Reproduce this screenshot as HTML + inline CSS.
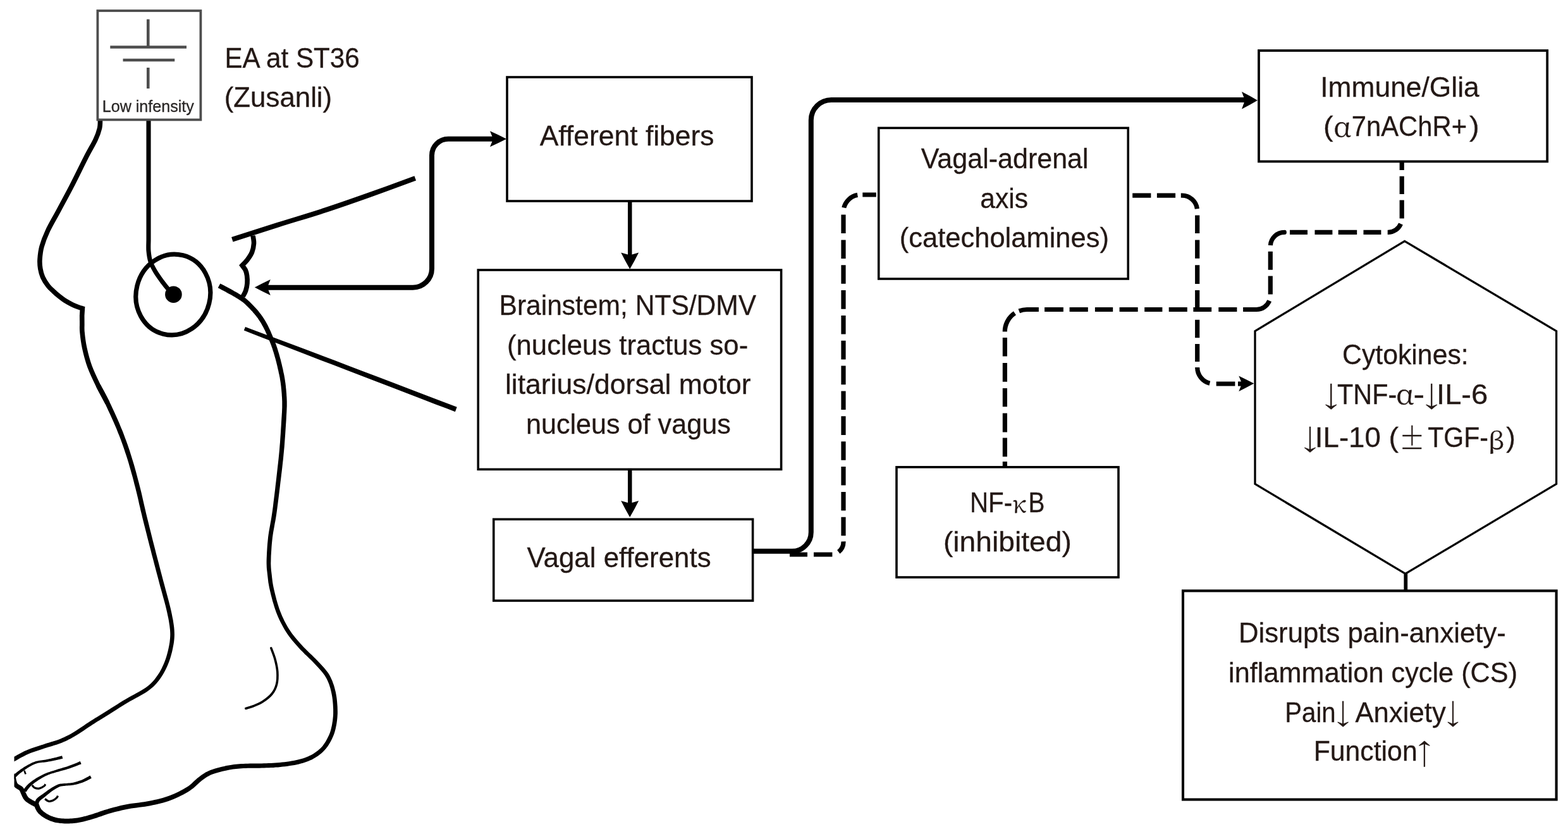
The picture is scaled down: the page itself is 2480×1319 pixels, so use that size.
<!DOCTYPE html>
<html lang="en">
<head>
<meta charset="utf-8">
<title>EA at ST36 (Zusanli) vagal anti-inflammatory pathway</title>
<style>
html,body{margin:0;padding:0;background:#fff;}
body{width:2480px;height:1319px;overflow:hidden;}
svg{display:block;will-change:transform;}
text{font-family:"Liberation Sans","DejaVu Sans",sans-serif;stroke:#231815;stroke-width:0.3px;}
.gk{font-family:"Noto Serif CJK SC","Liberation Serif","DejaVu Serif",serif;stroke:#231815;stroke-width:0.4px;}
.ar{font-family:"NanumGothic","WenQuanYi Zen Hei","Liberation Sans","DejaVu Sans",sans-serif;stroke:#231815;stroke-width:0.8px;}
</style>
</head>
<body>
<svg xmlns="http://www.w3.org/2000/svg" width="2480" height="1319" viewBox="0 0 2480 1319">
<defs><clipPath id="legclip"><rect x="22.5" y="0" width="2460" height="1319"/></clipPath></defs>
<rect width="2480" height="1319" fill="#fff"/>
<g clip-path="url(#legclip)">
<path d="M158.5 188.0C158.3 190.5 158.8 197.5 157.5 203.0C156.2 208.5 154.6 213.3 151.0 221.0C147.4 228.7 142.3 236.7 136.0 249.0C129.7 261.3 120.2 281.1 113.0 295.0C105.8 308.9 99.2 320.8 93.0 332.5C86.8 344.2 80.0 355.4 75.5 365.0C71.0 374.6 68.1 382.5 66.0 390.0C63.9 397.5 63.4 404.2 63.0 410.0C62.6 415.8 63.0 420.3 63.8 425.0C64.6 429.7 65.6 433.9 67.6 438.4C69.6 442.9 73.1 448.2 76.0 452.0C78.9 455.8 82.0 458.2 84.9 461.0C87.8 463.8 90.7 466.3 93.6 468.6C96.5 470.9 98.8 472.8 102.3 475.0C105.8 477.2 110.9 480.0 114.5 481.8C118.1 483.6 121.3 484.8 124.0 485.8C126.7 486.8 129.3 487.5 130.4 487.8L129.7 499C129.7 501.2 129.8 507.7 129.8 512.0C129.9 516.3 129.4 518.7 130.0 525.0C130.6 531.3 131.6 540.8 133.6 550.0C135.6 559.2 138.3 570.0 142.0 580.0C145.7 590.0 150.8 600.4 155.5 610.0C160.2 619.6 167.6 632.9 170.0 637.5" fill="none" stroke="#000" stroke-width="7.6" stroke-linecap="butt" stroke-linejoin="miter" stroke-miterlimit="6"/>
<path d="M152.2 611.8L153.2 613.8L154.7 616.4L156.3 619.4L158.2 622.7L160.2 626.5L162.3 630.5L164.4 634.7L166.6 639.1L168.9 643.9L171.3 649.2L173.9 654.8L176.5 660.6L179.2 666.5L181.8 672.5L184.3 678.3L186.5 683.9L188.7 689.3L190.7 694.5L192.6 699.8L194.5 705.0L196.3 710.2L198.0 715.4L199.8 720.7L201.5 726.1L203.2 731.6L204.8 737.2L206.4 742.8L208.0 748.5L209.6 754.1L211.1 759.8L212.5 765.4L214.0 770.9L215.3 776.3L216.6 781.5L217.8 786.6L219.0 791.7L220.1 796.9L221.4 802.2L222.6 807.7L224.0 813.3L225.4 819.2L226.9 825.2L228.4 831.2L230.0 837.4L231.6 843.7L233.2 850.2L234.9 856.7L236.6 863.4L238.4 870.3L240.2 877.5L242.2 884.8L244.1 892.3L246.1 899.7L248.0 907.0L249.9 914.1L251.7 920.9L253.4 927.4L255.2 933.8L256.9 940.1L258.6 946.2L260.2 952.1L261.7 957.8L263.0 963.1L264.2 968.2L265.2 973.0L266.2 977.5L267.0 981.7L267.6 985.7L268.2 989.5L268.6 993.1L269.0 996.6L269.2 1000.1L269.3 1003.5L269.2 1006.6L269.0 1009.7L268.7 1012.6L268.4 1015.5L267.9 1018.4L267.4 1021.3L266.8 1024.3L266.1 1027.4L265.4 1030.5L264.6 1033.6L263.7 1036.7L262.8 1039.8L261.8 1042.8L260.7 1045.8L259.5 1048.7L258.3 1051.6L256.9 1054.5L255.5 1057.4L254.0 1060.2L252.5 1062.9L250.9 1065.6L249.2 1068.1L247.4 1070.6L245.6 1072.9L243.9 1075.2L242.1 1077.2L240.2 1079.2L238.2 1081.2L236.0 1083.2L233.5 1085.3L230.6 1087.4L227.4 1089.6L223.8 1091.8L219.9 1094.0L215.7 1096.3L211.4 1098.7L207.0 1101.0L202.6 1103.5L198.4 1106.0L194.0 1108.6L189.6 1111.3L185.1 1114.2L180.6 1117.0L176.1 1119.8L171.9 1122.5L167.9 1125.0L164.3 1127.3L161.1 1129.2L158.3 1130.9L155.8 1132.4L153.5 1133.9L151.2 1135.3L148.8 1136.8L146.2 1138.4L143.2 1140.3L139.9 1142.4L136.3 1144.8L132.6 1147.4L128.7 1150.0L124.9 1152.5L121.1 1155.0L117.6 1157.2L114.3 1159.2L111.4 1160.9L108.5 1162.4L105.9 1163.8L103.3 1165.1L100.8 1166.2L98.3 1167.3L95.8 1168.4L93.2 1169.5L90.6 1170.4L88.1 1171.3L85.6 1172.1L83.1 1172.8L80.4 1173.6L77.6 1174.4L74.7 1175.3L71.6 1176.3L68.3 1177.4L64.8 1178.5L61.1 1179.7L57.2 1180.9L53.4 1182.2L49.6 1183.6L45.8 1185.0L42.2 1186.5L38.5 1188.1L34.8 1190.0L31.0 1192.0L27.3 1194.0L23.9 1195.9L20.9 1197.6L18.3 1199.1L16.4 1200.1L19.6 1205.9L21.5 1204.8L24.1 1203.4L27.2 1201.7L30.5 1199.8L34.1 1197.8L37.8 1195.9L41.4 1194.1L44.8 1192.5L48.2 1191.1L51.8 1189.7L55.5 1188.4L59.3 1187.2L63.1 1185.9L66.8 1184.7L70.3 1183.6L73.6 1182.5L76.7 1181.5L79.5 1180.7L82.2 1179.9L84.9 1179.1L87.5 1178.3L90.2 1177.5L92.8 1176.6L95.6 1175.5L98.3 1174.4L100.9 1173.3L103.5 1172.2L106.2 1171.0L108.8 1169.6L111.6 1168.2L114.5 1166.6L117.7 1164.8L121.0 1162.8L124.7 1160.4L128.5 1157.9L132.4 1155.4L136.2 1152.8L139.9 1150.2L143.5 1147.9L146.8 1145.7L149.7 1143.9L152.2 1142.3L154.6 1140.8L156.9 1139.4L159.2 1138.0L161.7 1136.5L164.5 1134.7L167.7 1132.7L171.4 1130.5L175.3 1127.9L179.6 1125.3L184.0 1122.5L188.5 1119.6L193.0 1116.8L197.4 1114.1L201.6 1111.5L205.8 1109.1L210.1 1106.7L214.5 1104.3L218.8 1102.0L223.1 1099.6L227.1 1097.3L230.9 1095.0L234.4 1092.6L237.4 1090.3L240.1 1088.1L242.6 1085.9L244.8 1083.7L246.9 1081.5L248.8 1079.2L250.7 1076.9L252.6 1074.4L254.5 1071.8L256.3 1069.0L258.0 1066.2L259.7 1063.3L261.3 1060.3L262.8 1057.3L264.2 1054.3L265.5 1051.3L266.7 1048.2L267.9 1045.0L269.0 1041.8L270.0 1038.6L270.9 1035.3L271.8 1032.1L272.5 1028.9L273.2 1025.7L273.8 1022.5L274.4 1019.5L274.9 1016.4L275.3 1013.3L275.6 1010.2L275.8 1006.9L275.9 1003.5L275.8 999.9L275.6 996.1L275.3 992.4L274.8 988.6L274.2 984.6L273.6 980.5L272.7 976.2L271.8 971.6L270.8 966.8L269.6 961.6L268.2 956.1L266.8 950.4L265.2 944.4L263.5 938.3L261.8 932.0L260.1 925.6L258.3 919.1L256.6 912.4L254.7 905.3L252.8 898.0L250.9 890.5L248.9 883.1L247.0 875.7L245.2 868.5L243.4 861.6L241.7 855.0L240.1 848.4L238.5 842.0L236.9 835.7L235.4 829.5L233.9 823.4L232.4 817.5L231.0 811.7L229.7 806.0L228.4 800.6L227.2 795.3L226.0 790.1L224.9 785.0L223.7 779.8L222.4 774.5L221.0 769.1L219.6 763.6L218.1 757.9L216.6 752.2L215.1 746.5L213.5 740.8L211.9 735.1L210.2 729.5L208.5 723.9L206.8 718.5L205.1 713.1L203.3 707.8L201.5 702.5L199.6 697.2L197.6 691.9L195.6 686.6L193.5 681.1L191.1 675.4L188.7 669.5L186.1 663.5L183.4 657.5L180.7 651.6L178.1 646.0L175.7 640.7L173.4 635.9L171.2 631.4L169.0 627.0L166.9 622.9L164.8 619.1L163.0 615.7L161.3 612.7L159.9 610.2L158.8 608.2Z" fill="#000"/>
<path d="M344.7 455.2L346.2 456.1L348.3 457.1L350.7 458.4L353.4 459.8L356.3 461.3L359.1 462.9L361.9 464.4L364.4 465.8L366.8 467.1L369.1 468.5L371.5 469.8L373.8 471.2L376.0 472.5L378.2 473.9L380.2 475.3L382.2 476.7L384.1 478.1L385.9 479.6L387.6 481.1L389.3 482.7L390.9 484.3L392.6 485.9L394.2 487.6L395.8 489.3L397.4 490.9L399.0 492.6L400.5 494.4L402.0 496.1L403.5 497.9L404.9 499.6L406.3 501.4L407.6 503.1L408.8 504.9L410.0 506.7L411.2 508.5L412.3 510.3L413.4 512.1L414.4 513.9L415.4 515.8L416.4 517.6L417.4 519.4L418.3 521.2L419.2 523.0L420.0 524.8L420.8 526.7L421.7 528.6L422.5 530.5L423.3 532.4L424.2 534.4L425.0 536.3L425.8 538.3L426.6 540.2L427.4 542.2L428.2 544.2L429.0 546.3L429.7 548.4L430.5 550.5L431.2 552.7L431.9 554.9L432.6 557.1L433.3 559.4L434.0 561.7L434.6 563.9L435.3 566.2L435.9 568.4L436.5 570.7L437.1 572.9L437.6 575.2L438.2 577.4L438.7 579.7L439.2 582.0L439.7 584.2L440.3 586.5L440.7 588.7L441.2 590.9L441.7 593.1L442.1 595.3L442.6 597.5L442.9 599.8L443.3 602.1L443.7 604.4L444.0 606.8L444.3 609.2L444.6 611.6L444.8 614.0L445.1 616.5L445.3 618.9L445.5 621.3L445.7 623.6L445.8 625.9L446.0 628.2L446.1 630.5L446.2 632.8L446.3 635.1L446.3 637.5L446.3 640.0L446.3 642.4L446.3 644.6L446.2 646.8L446.1 649.1L446.0 651.7L445.8 654.6L445.6 658.1L445.3 662.3L445.0 667.2L444.7 672.8L444.3 679.0L443.9 685.5L443.4 692.3L443.0 699.1L442.4 705.8L441.9 712.2L441.3 718.4L440.7 724.6L440.0 730.9L439.3 737.1L438.6 743.3L437.9 749.6L437.2 755.8L436.5 762.1L435.7 768.4L435.0 774.9L434.2 781.4L433.4 787.9L432.6 794.2L431.9 800.4L431.1 806.4L430.3 812.0L429.5 817.2L428.7 822.2L427.8 826.9L427.0 831.4L426.2 835.9L425.4 840.4L424.7 844.9L424.1 849.6L423.6 854.4L423.1 859.4L422.7 864.5L422.4 869.5L422.1 874.4L421.9 879.0L421.7 883.4L421.6 887.4L421.6 891.1L421.7 894.3L421.8 897.2L422.0 900.0L422.3 902.6L422.6 905.1L422.9 907.7L423.2 910.4L423.5 913.1L423.8 915.7L424.1 918.3L424.4 920.9L424.9 923.7L425.4 926.6L426.0 929.8L426.8 933.2L427.7 937.1L428.7 941.3L429.9 945.8L431.1 950.4L432.5 955.1L433.9 959.8L435.4 964.3L437.0 968.7L438.6 972.8L440.3 976.8L442.1 980.7L444.0 984.6L446.0 988.3L448.0 992.0L450.1 995.7L452.3 999.2L454.6 1002.7L456.9 1006.0L459.4 1009.2L461.9 1012.4L464.5 1015.4L467.1 1018.5L469.8 1021.6L472.6 1024.7L475.6 1027.9L478.8 1031.1L482.0 1034.4L485.4 1037.6L488.6 1040.7L491.8 1043.8L494.8 1046.8L497.6 1049.8L500.2 1052.6L502.8 1055.3L505.2 1057.9L507.5 1060.4L509.6 1062.9L511.6 1065.4L513.4 1068.0L515.1 1070.7L516.7 1073.5L518.1 1076.5L519.4 1079.5L520.6 1082.6L521.6 1085.8L522.6 1089.0L523.4 1092.3L524.2 1095.7L524.9 1099.2L525.5 1102.8L526.0 1106.6L526.4 1110.4L526.7 1114.2L526.9 1118.0L527.1 1121.6L527.1 1125.0L527.1 1128.2L527.0 1131.4L526.7 1134.4L526.4 1137.4L526.1 1140.2L525.6 1143.0L525.2 1145.7L524.7 1148.3L524.1 1150.8L523.6 1153.1L523.0 1155.3L522.3 1157.4L521.6 1159.4L520.8 1161.4L519.9 1163.4L518.9 1165.5L517.9 1167.6L516.7 1169.8L515.5 1171.9L514.3 1174.0L512.9 1176.0L511.5 1178.0L510.1 1179.9L508.5 1181.7L506.8 1183.4L505.0 1185.1L503.1 1186.7L501.1 1188.3L499.0 1189.8L496.9 1191.3L494.6 1192.7L492.4 1193.9L490.0 1195.1L487.6 1196.3L485.1 1197.3L482.6 1198.3L479.9 1199.2L477.1 1200.0L474.2 1200.8L471.2 1201.6L468.0 1202.3L464.6 1203.0L461.1 1203.6L457.4 1204.2L453.7 1204.7L450.0 1205.2L446.3 1205.6L442.6 1206.0L439.1 1206.3L435.5 1206.6L431.9 1206.8L428.3 1207.0L424.7 1207.1L421.1 1207.2L417.5 1207.3L413.9 1207.4L410.3 1207.5L406.6 1207.6L402.8 1207.6L399.1 1207.6L395.4 1207.6L391.8 1207.7L388.2 1207.8L384.8 1207.9L381.7 1208.1L378.7 1208.3L375.9 1208.5L373.1 1208.7L370.3 1209.0L367.4 1209.4L364.5 1209.9L361.3 1210.4L357.9 1211.1L354.3 1211.9L350.5 1212.8L346.7 1213.7L342.9 1214.7L339.3 1215.8L335.8 1216.9L332.7 1218.0L329.9 1219.2L327.4 1220.4L325.1 1221.6L323.0 1222.9L321.0 1224.2L319.0 1225.6L317.0 1227.1L314.8 1228.7L312.4 1230.5L310.2 1232.5L307.9 1234.6L305.7 1236.6L303.5 1238.7L301.2 1240.7L298.7 1242.7L296.0 1244.5L293.0 1246.3L289.7 1248.2L286.3 1250.1L282.7 1251.9L279.0 1253.7L275.2 1255.4L271.4 1257.0L267.7 1258.5L264.0 1259.8L260.2 1261.1L256.3 1262.2L252.4 1263.2L248.4 1264.2L244.4 1265.1L240.3 1266.0L236.3 1266.8L232.2 1267.6L228.0 1268.2L223.7 1268.8L219.3 1269.4L215.0 1269.9L210.7 1270.5L206.4 1271.1L202.3 1271.8L198.4 1272.5L194.6 1273.3L190.9 1274.1L187.3 1275.0L183.7 1275.9L180.2 1276.8L176.6 1277.7L172.9 1278.7L169.2 1279.9L165.4 1281.1L161.6 1282.3L157.8 1283.6L154.1 1284.9L150.5 1286.1L147.1 1287.3L143.9 1288.2L140.9 1289.1L138.0 1289.9L135.3 1290.7L132.6 1291.3L130.1 1291.9L127.6 1292.5L125.2 1293.0L122.8 1293.4L120.4 1293.8L118.0 1294.1L115.7 1294.3L113.4 1294.5L111.2 1294.6L109.0 1294.7L106.8 1294.8L104.6 1294.7L102.4 1294.7L100.2 1294.6L98.0 1294.4L95.9 1294.2L93.8 1294.0L91.8 1293.7L89.8 1293.3L87.9 1292.8L86.1 1292.3L84.3 1291.8L82.6 1291.1L80.9 1290.4L79.2 1289.7L77.6 1288.9L76.0 1288.1L74.5 1287.2L73.1 1286.4L71.8 1285.5L70.5 1284.6L69.3 1283.7L68.2 1282.8L67.2 1281.8L66.2 1280.9L65.4 1280.0L64.8 1279.0L64.1 1277.9L63.5 1276.7L62.9 1275.3L62.4 1274.0L61.9 1272.8L61.5 1271.6L61.1 1270.8L53.9 1273.8L54.2 1274.6L54.6 1275.6L55.1 1276.9L55.7 1278.4L56.4 1280.0L57.3 1281.6L58.2 1283.3L59.4 1284.8L60.5 1286.2L61.8 1287.4L63.1 1288.6L64.5 1289.8L65.9 1290.9L67.5 1292.0L69.0 1293.0L70.7 1294.0L72.3 1294.9L74.1 1295.8L75.9 1296.7L77.8 1297.6L79.8 1298.4L81.8 1299.1L83.9 1299.8L86.1 1300.4L88.2 1300.9L90.5 1301.3L92.7 1301.6L95.1 1301.9L97.4 1302.1L99.7 1302.3L102.1 1302.4L104.4 1302.5L106.8 1302.5L109.2 1302.4L111.6 1302.3L114.0 1302.2L116.4 1302.0L118.9 1301.7L121.4 1301.4L124.0 1301.0L126.6 1300.5L129.2 1300.0L131.8 1299.4L134.5 1298.8L137.2 1298.1L140.0 1297.3L143.0 1296.5L146.1 1295.6L149.4 1294.5L152.9 1293.4L156.6 1292.1L160.3 1290.9L164.0 1289.6L167.8 1288.3L171.4 1287.1L175.1 1286.1L178.6 1285.1L182.1 1284.1L185.6 1283.2L189.1 1282.4L192.6 1281.5L196.2 1280.7L199.9 1280.0L203.7 1279.2L207.6 1278.5L211.7 1277.9L215.9 1277.4L220.3 1276.8L224.7 1276.3L229.1 1275.7L233.4 1275.0L237.7 1274.2L241.9 1273.3L246.0 1272.4L250.1 1271.5L254.2 1270.5L258.3 1269.4L262.4 1268.2L266.4 1266.9L270.3 1265.5L274.2 1263.9L278.2 1262.3L282.1 1260.5L286.0 1258.6L289.7 1256.7L293.3 1254.7L296.8 1252.7L300.0 1250.7L303.0 1248.6L305.8 1246.4L308.4 1244.2L310.8 1242.0L313.0 1239.9L315.1 1238.0L317.1 1236.2L319.2 1234.5L321.3 1233.0L323.3 1231.6L325.1 1230.2L326.9 1229.1L328.7 1227.9L330.7 1226.9L332.8 1225.8L335.3 1224.8L338.2 1223.8L341.4 1222.7L344.9 1221.7L348.5 1220.7L352.2 1219.8L355.9 1219.0L359.4 1218.2L362.7 1217.6L365.7 1217.0L368.5 1216.6L371.2 1216.2L373.8 1215.9L376.4 1215.7L379.2 1215.5L382.1 1215.3L385.2 1215.1L388.5 1214.9L391.9 1214.8L395.5 1214.8L399.1 1214.8L402.9 1214.7L406.6 1214.7L410.4 1214.7L414.1 1214.6L417.7 1214.4L421.4 1214.3L425.0 1214.2L428.7 1214.0L432.3 1213.9L436.0 1213.6L439.7 1213.4L443.4 1213.0L447.1 1212.6L450.8 1212.2L454.7 1211.7L458.5 1211.1L462.2 1210.5L465.9 1209.9L469.4 1209.2L472.8 1208.4L476.0 1207.6L479.1 1206.7L482.1 1205.8L484.9 1204.8L487.7 1203.8L490.4 1202.6L493.1 1201.4L495.6 1200.1L498.2 1198.6L500.6 1197.1L503.0 1195.5L505.3 1193.8L507.5 1192.0L509.6 1190.2L511.6 1188.3L513.5 1186.3L515.3 1184.3L517.0 1182.1L518.6 1179.9L520.1 1177.6L521.5 1175.3L522.8 1173.1L524.0 1170.8L525.1 1168.5L526.1 1166.2L527.1 1164.0L528.0 1161.8L528.8 1159.5L529.5 1157.2L530.2 1154.8L530.8 1152.3L531.3 1149.7L531.9 1146.9L532.4 1144.1L532.8 1141.2L533.2 1138.1L533.5 1135.0L533.7 1131.8L533.9 1128.4L533.9 1125.0L533.8 1121.4L533.7 1117.7L533.4 1113.8L533.1 1109.8L532.7 1105.8L532.2 1101.9L531.5 1098.0L530.8 1094.3L529.9 1090.7L529.0 1087.2L528.0 1083.8L526.8 1080.4L525.6 1077.0L524.1 1073.7L522.6 1070.5L520.9 1067.3L519.0 1064.3L516.9 1061.4L514.7 1058.7L512.4 1056.0L510.1 1053.4L507.6 1050.8L505.0 1048.1L502.4 1045.2L499.5 1042.2L496.4 1039.2L493.2 1036.0L489.9 1032.9L486.6 1029.7L483.4 1026.5L480.3 1023.4L477.4 1020.3L474.6 1017.3L472.0 1014.2L469.4 1011.2L466.9 1008.3L464.5 1005.3L462.1 1002.2L459.9 999.0L457.7 995.8L455.6 992.4L453.6 988.9L451.6 985.3L449.7 981.7L448.0 978.0L446.2 974.2L444.6 970.3L443.0 966.3L441.5 962.2L440.1 957.8L438.7 953.3L437.4 948.7L436.2 944.1L435.1 939.7L434.1 935.5L433.2 931.8L432.5 928.4L431.9 925.4L431.4 922.6L431.0 920.0L430.7 917.5L430.4 915.0L430.1 912.4L429.8 909.6L429.5 906.9L429.2 904.4L428.9 901.9L428.7 899.4L428.5 896.8L428.4 894.1L428.3 891.0L428.4 887.6L428.5 883.6L428.6 879.3L428.9 874.7L429.2 869.9L429.5 865.0L429.9 860.0L430.4 855.1L430.9 850.4L431.5 845.9L432.2 841.5L433.0 837.1L433.8 832.7L434.6 828.1L435.5 823.4L436.4 818.3L437.2 813.0L438.0 807.3L438.8 801.3L439.6 795.1L440.4 788.7L441.2 782.2L442.0 775.7L442.8 769.3L443.5 762.9L444.3 756.7L445.0 750.4L445.8 744.2L446.5 737.9L447.2 731.6L447.9 725.4L448.5 719.1L449.1 712.8L449.7 706.4L450.2 699.6L450.7 692.8L451.2 686.0L451.6 679.5L452.0 673.3L452.4 667.7L452.7 662.7L452.9 658.6L453.1 655.1L453.3 652.1L453.4 649.5L453.5 647.1L453.6 644.8L453.7 642.5L453.7 640.0L453.7 637.4L453.7 634.9L453.6 632.5L453.5 630.1L453.4 627.8L453.2 625.5L453.1 623.1L452.9 620.7L452.7 618.3L452.5 615.8L452.2 613.3L452.0 610.8L451.7 608.3L451.4 605.8L451.0 603.3L450.7 600.9L450.3 598.6L449.9 596.2L449.5 593.9L449.0 591.6L448.5 589.4L448.0 587.1L447.6 584.8L447.1 582.6L446.5 580.3L446.0 578.0L445.5 575.7L444.9 573.4L444.3 571.1L443.8 568.8L443.1 566.5L442.5 564.2L441.9 561.9L441.2 559.6L440.5 557.2L439.8 554.9L439.1 552.6L438.4 550.3L437.6 548.1L436.9 545.8L436.1 543.7L435.3 541.5L434.5 539.4L433.6 537.4L432.8 535.4L432.0 533.4L431.1 531.4L430.3 529.4L429.4 527.5L428.6 525.5L427.8 523.6L426.9 521.7L426.0 519.8L425.1 517.9L424.2 515.9L423.2 514.0L422.1 512.1L421.1 510.2L420.0 508.3L418.8 506.3L417.7 504.4L416.4 502.5L415.1 500.6L413.8 498.7L412.4 496.8L410.9 494.9L409.4 493.0L407.9 491.1L406.3 489.3L404.7 487.5L403.0 485.7L401.4 483.9L399.7 482.2L398.0 480.5L396.3 478.8L394.6 477.1L392.8 475.4L390.9 473.8L388.9 472.1L386.8 470.5L384.6 468.9L382.4 467.4L380.1 466.0L377.7 464.5L375.4 463.1L373.0 461.8L370.6 460.4L368.2 459.0L365.6 457.6L362.8 456.0L360.0 454.5L357.1 453.0L354.4 451.5L351.9 450.2L349.9 449.2L348.3 448.4Z" fill="#000"/>
<path d="M98.1 1195.3L97.2 1195.5L96.1 1195.8L94.7 1196.2L93.2 1196.6L91.6 1197.1L89.9 1197.5L88.2 1197.9L86.5 1198.3L84.9 1198.7L83.2 1199.1L81.4 1199.5L79.6 1199.9L77.8 1200.3L75.9 1200.7L74.1 1201.1L72.3 1201.4L70.5 1201.7L68.7 1202.0L66.8 1202.3L64.9 1202.5L63.0 1202.8L61.2 1203.1L59.3 1203.4L57.5 1203.8L55.8 1204.3L54.2 1204.9L52.7 1205.5L51.2 1206.1L49.7 1206.8L48.3 1207.5L47.0 1208.2L45.6 1208.9L44.2 1209.6L42.8 1210.4L41.5 1211.2L40.1 1212.0L38.8 1212.8L37.5 1213.6L36.3 1214.4L35.1 1215.2L33.9 1216.0L32.7 1216.8L31.6 1217.6L30.5 1218.4L29.3 1219.2L28.2 1220.0L27.2 1220.9L26.1 1221.7L25.0 1222.7L23.8 1223.8L22.6 1224.9L21.5 1226.0L20.5 1227.0L19.6 1227.9L18.8 1228.7L18.2 1229.2L21.8 1232.8L22.4 1232.2L23.1 1231.3L24.0 1230.4L25.0 1229.4L26.0 1228.3L27.1 1227.2L28.1 1226.2L29.1 1225.3L30.1 1224.4L31.1 1223.6L32.1 1222.8L33.1 1222.0L34.2 1221.2L35.3 1220.4L36.4 1219.6L37.5 1218.8L38.7 1217.9L39.9 1217.1L41.1 1216.3L42.3 1215.4L43.6 1214.6L44.8 1213.8L46.1 1213.1L47.4 1212.3L48.8 1211.6L50.1 1210.8L51.4 1210.1L52.8 1209.5L54.1 1208.8L55.5 1208.2L57.0 1207.7L58.5 1207.2L60.0 1206.8L61.7 1206.5L63.5 1206.2L65.3 1206.0L67.2 1205.8L69.1 1205.7L71.0 1205.4L72.9 1205.2L74.8 1204.9L76.6 1204.5L78.5 1204.2L80.4 1203.9L82.2 1203.5L84.0 1203.2L85.8 1202.8L87.5 1202.5L89.2 1202.1L90.9 1201.7L92.6 1201.3L94.3 1200.9L95.8 1200.6L97.2 1200.2L98.4 1199.9L99.3 1199.7Z" fill="#000"/>
<path d="M17.1 1224.6L17.3 1225.9L17.6 1227.7L17.9 1229.9L18.3 1232.3L18.7 1234.9L19.3 1237.4L20.1 1239.8L21.0 1242.0L22.3 1244.0L23.9 1245.5L25.4 1246.7L26.9 1247.6L28.2 1248.4L29.3 1249.0L30.1 1249.5L30.6 1250.1L31.1 1250.7L31.5 1251.5L32.0 1252.4L32.4 1253.4L32.8 1254.5L33.2 1255.6L33.8 1256.8L34.3 1258.0L34.8 1259.0L35.2 1259.9L35.7 1260.8L36.2 1261.9L36.8 1262.9L37.5 1264.0L38.3 1265.1L39.3 1266.2L40.4 1267.3L41.6 1268.2L42.9 1269.1L44.1 1270.0L45.4 1270.8L46.6 1271.5L47.8 1272.2L48.8 1272.8L49.9 1273.4L51.1 1274.1L52.2 1274.6L53.2 1275.2L54.2 1275.6L55.1 1276.0L55.8 1276.4L56.3 1276.6L59.7 1269.4L59.2 1269.1L58.4 1268.8L57.6 1268.4L56.7 1268.0L55.7 1267.5L54.7 1267.0L53.7 1266.5L52.8 1266.0L51.7 1265.4L50.6 1264.7L49.4 1264.1L48.3 1263.4L47.2 1262.7L46.2 1262.0L45.4 1261.4L44.7 1260.8L44.2 1260.2L43.8 1259.6L43.4 1259.0L43.0 1258.3L42.5 1257.5L42.1 1256.6L41.6 1255.6L41.1 1254.6L40.6 1253.7L40.2 1252.8L39.8 1251.7L39.3 1250.5L38.8 1249.3L38.1 1247.9L37.3 1246.6L36.2 1245.1L34.8 1243.8L33.3 1242.8L31.9 1242.0L30.6 1241.3L29.5 1240.6L28.6 1239.9L27.9 1239.3L27.4 1238.6L26.8 1237.3L26.3 1235.5L25.7 1233.4L25.3 1231.1L24.9 1228.7L24.5 1226.6L24.2 1224.7L23.9 1223.4Z" fill="#000"/>
<path d="M126.8 1204.1L125.4 1204.6L123.5 1205.4L121.3 1206.4L118.8 1207.4L116.2 1208.5L113.5 1209.5L110.8 1210.6L108.2 1211.5L105.6 1212.4L102.9 1213.3L100.0 1214.1L97.1 1215.0L94.3 1215.8L91.5 1216.6L88.9 1217.4L86.4 1218.2L84.3 1218.9L82.3 1219.5L80.5 1220.1L78.8 1220.7L77.1 1221.2L75.4 1221.8L73.6 1222.5L71.8 1223.2L69.9 1224.1L68.0 1225.0L66.0 1225.9L64.1 1226.9L62.2 1228.0L60.3 1229.0L58.5 1230.1L56.8 1231.1L55.1 1232.2L53.5 1233.2L51.9 1234.3L50.4 1235.4L48.9 1236.5L47.4 1237.7L46.1 1238.8L44.7 1240.0L43.5 1241.2L42.2 1242.6L41.0 1244.0L39.9 1245.3L38.9 1246.6L38.1 1247.7L37.4 1248.6L36.8 1249.3L41.2 1252.7L41.7 1251.9L42.4 1250.9L43.2 1249.8L44.1 1248.6L45.1 1247.3L46.1 1246.0L47.2 1244.7L48.3 1243.6L49.4 1242.5L50.6 1241.4L51.9 1240.3L53.3 1239.2L54.7 1238.1L56.1 1237.0L57.7 1236.0L59.2 1234.9L60.8 1233.8L62.6 1232.7L64.3 1231.7L66.1 1230.6L68.0 1229.6L69.8 1228.6L71.6 1227.6L73.4 1226.8L75.1 1226.0L76.7 1225.3L78.3 1224.7L79.9 1224.1L81.6 1223.6L83.4 1223.0L85.4 1222.4L87.6 1221.8L89.9 1221.1L92.6 1220.4L95.3 1219.6L98.2 1218.8L101.1 1218.0L104.1 1217.2L106.9 1216.3L109.6 1215.5L112.3 1214.6L115.0 1213.6L117.8 1212.5L120.5 1211.5L123.0 1210.5L125.2 1209.6L127.1 1208.9L128.6 1208.3Z" fill="#000"/>
<path d="M142.6 1226.6L141.6 1227.1L140.3 1227.8L138.7 1228.7L137.0 1229.6L135.2 1230.6L133.3 1231.5L131.5 1232.4L129.8 1233.2L128.1 1233.9L126.3 1234.5L124.6 1235.1L122.8 1235.7L121.0 1236.3L119.2 1236.8L117.4 1237.3L115.6 1237.7L113.9 1238.0L112.0 1238.3L110.2 1238.5L108.3 1238.6L106.5 1238.8L104.7 1238.9L103.0 1239.0L101.4 1239.1L100.1 1239.2L98.9 1239.3L97.9 1239.4L96.8 1239.4L95.8 1239.6L94.7 1239.8L93.4 1240.1L92.1 1240.5L90.7 1241.1L89.2 1241.8L87.7 1242.5L86.2 1243.3L84.6 1244.2L83.0 1245.1L81.5 1246.0L80.0 1247.0L78.4 1248.0L76.9 1249.0L75.3 1250.1L73.8 1251.2L72.2 1252.4L70.8 1253.4L69.4 1254.5L68.0 1255.5L66.7 1256.4L65.4 1257.3L64.1 1258.2L62.8 1259.1L61.6 1260.0L60.3 1260.9L59.2 1261.9L58.1 1263.1L57.2 1264.3L56.4 1265.6L55.9 1266.9L55.4 1268.1L55.1 1269.2L54.8 1270.1L54.6 1270.8L54.4 1271.3L60.6 1273.3L60.8 1272.7L61.0 1271.8L61.2 1271.0L61.4 1270.1L61.7 1269.2L62.0 1268.4L62.4 1267.6L62.9 1266.9L63.5 1266.2L64.3 1265.5L65.2 1264.7L66.3 1263.8L67.5 1262.9L68.8 1261.9L70.1 1260.9L71.4 1259.9L72.7 1258.8L74.1 1257.7L75.5 1256.5L76.9 1255.4L78.4 1254.2L79.8 1253.1L81.2 1252.0L82.6 1251.0L84.1 1250.1L85.5 1249.1L87.0 1248.2L88.4 1247.3L89.8 1246.4L91.2 1245.7L92.5 1245.0L93.7 1244.5L94.7 1244.1L95.6 1243.8L96.5 1243.6L97.3 1243.4L98.2 1243.3L99.3 1243.2L100.5 1243.1L101.8 1242.9L103.3 1242.7L104.9 1242.5L106.7 1242.4L108.6 1242.3L110.5 1242.2L112.5 1242.0L114.4 1241.8L116.4 1241.5L118.3 1241.1L120.2 1240.7L122.1 1240.2L124.0 1239.7L125.9 1239.1L127.8 1238.5L129.6 1237.9L131.4 1237.2L133.3 1236.5L135.3 1235.6L137.2 1234.7L139.1 1233.7L140.9 1232.8L142.5 1232.0L143.8 1231.3L144.8 1230.8Z" fill="#000"/>
<path d="M38.5 1218.5C38.6 1218.9 38.9 1220.0 39.2 1221.0C39.6 1222.0 40.4 1223.8 40.6 1224.4" fill="none" stroke="#000" stroke-width="2.6" stroke-linecap="butt" stroke-linejoin="round"/>
<path d="M50.8 1241.8C51.5 1242.5 53.1 1245.2 55.0 1246.0C56.9 1246.8 59.9 1247.4 62.4 1246.9C64.8 1246.4 68.1 1244.3 69.7 1243.2C71.3 1242.1 71.5 1240.8 71.9 1240.3" fill="none" stroke="#000" stroke-width="3.2" stroke-linecap="butt" stroke-linejoin="round"/>
<path d="M71.0 1263.5C72.0 1264.1 74.8 1266.8 77.0 1267.2C79.2 1267.6 82.0 1266.7 84.2 1265.7C86.4 1264.7 88.8 1262.6 90.0 1261.4C91.2 1260.2 91.2 1259.0 91.4 1258.5" fill="none" stroke="#000" stroke-width="3.2" stroke-linecap="butt" stroke-linejoin="round"/>
</g>
<path d="M428.8 1025.0C429.8 1027.9 433.3 1036.2 435.0 1042.5C436.7 1048.8 438.3 1055.8 438.8 1062.5C439.2 1069.2 439.0 1076.7 437.5 1082.5C436.0 1088.3 433.8 1092.9 430.0 1097.5C426.2 1102.1 420.0 1106.8 415.0 1110.0C410.0 1113.2 404.4 1115.2 400.0 1117.0C395.6 1118.8 390.6 1119.9 388.8 1120.5" fill="none" stroke="#000" stroke-width="3.6" stroke-linecap="round" stroke-linejoin="round"/>
<path d="M400.0 372.5C400.2 374.6 401.8 380.6 401.5 385.0C401.2 389.4 400.2 394.8 398.5 399.0C396.8 403.2 394.1 407.0 391.5 410.5C388.9 414.0 384.4 418.2 383.0 419.8C383.9 421.0 386.9 424.3 388.2 427.0C389.5 429.7 390.1 432.5 390.6 436.0C391.1 439.5 391.3 444.0 391.0 448.0C390.7 452.0 389.8 456.5 388.6 460.0C387.4 463.5 384.8 467.5 384.0 469.0" fill="none" stroke="#000" stroke-width="7.6" stroke-linecap="butt" stroke-linejoin="miter" stroke-miterlimit="5"/>
<path d="M367.3 378.7C379.4 374.8 416.0 363.1 440.0 355.5C464.0 347.9 487.3 341.2 511.5 333.3C535.7 325.4 560.8 316.6 585.0 308.0C609.2 299.4 644.8 286.2 656.7 281.9" fill="none" stroke="#000" stroke-width="7.8" stroke-linecap="butt" stroke-linejoin="round"/>
<path d="M385.8 522.6L398.3 527.5L414.9 533.9L434.6 541.5L456.5 550.1L479.8 559.1L503.5 568.2L526.8 577.1L548.7 585.5L570.8 594.0L594.9 603.3L619.8 612.8L644.4 622.3L667.8 631.3L688.9 639.4L706.6 646.1L719.9 651.2L722.7 643.8L709.5 638.7L691.7 632.0L670.7 623.9L647.2 615.0L622.5 605.6L597.6 596.1L573.6 586.9L551.3 578.5L529.4 570.1L506.2 561.3L482.4 552.3L459.0 543.5L436.9 535.3L417.2 527.9L400.5 521.7L388.0 517.0Z" fill="#000"/>
<path d="M235 190V380C235.0 382.8 234.5 391.4 235.0 397.0C235.5 402.6 236.2 408.2 237.9 413.5C239.6 418.8 242.3 423.7 245.4 429.0C248.5 434.3 253.2 440.7 256.6 445.4C260.0 450.1 263.1 453.9 266.0 457.3C268.9 460.7 272.7 464.6 274.0 466.0" fill="none" stroke="#000" stroke-width="7.1" stroke-linecap="butt" stroke-linejoin="round"/>
<ellipse cx="273.8" cy="466.05" rx="58.6" ry="64.1" fill="none" stroke="#000" stroke-width="7.2" transform="rotate(14 273.8 466.05)"/>
<circle cx="274.4" cy="465.7" r="13.3" fill="#000"/>
<rect x="154.4" y="17" width="163" height="172.4" fill="none" stroke="#4d4d4d" stroke-width="3.8"/>
<path d="M234.25 30.5V74.5M174.25 74.5H295M194.5 95H276.25M234.25 107V140" fill="none" stroke="#4d4d4d" stroke-width="4.6"/>
<rect x="802.00" y="122.00" width="387.00" height="196.00" fill="none" stroke="#000" stroke-width="3.6"/>
<rect x="756.25" y="427.00" width="479.35" height="315.30" fill="none" stroke="#000" stroke-width="3.6"/>
<rect x="780.75" y="821.25" width="409.85" height="128.75" fill="none" stroke="#000" stroke-width="3.6"/>
<rect x="1389.75" y="202.40" width="394.50" height="238.60" fill="none" stroke="#000" stroke-width="3.6"/>
<rect x="1418.00" y="738.75" width="351.00" height="174.25" fill="none" stroke="#000" stroke-width="3.6"/>
<rect x="1991.00" y="80.00" width="456.20" height="175.40" fill="none" stroke="#000" stroke-width="3.8"/>
<rect x="1871.00" y="934.40" width="590.60" height="330.10" fill="none" stroke="#000" stroke-width="4.1"/>
<polygon points="2221.6,381.4 2461.6,523.6 2461.6,765.4 2222.8,907.4 1985,765.4 1985,523.6" fill="none" stroke="#000" stroke-width="3.3" stroke-linejoin="miter"/>
<path d="M412 454.7H653A30 30 0 0 0 683 424.7V245.7A26 26 0 0 1 709 219.7H790" fill="none" stroke="#000" stroke-width="8" stroke-linecap="butt" stroke-linejoin="round"/>
<path d="M801.0 219.7Q788.0 212.9 775.0 207.2L780.0 219.7L775.0 232.2Q788.0 226.4 801.0 219.7Z" fill="#000"/>
<path d="M402.8 454.5Q415.3 461.2 427.8 467.0L422.8 454.5L427.8 442.0Q415.3 447.8 402.8 454.5Z" fill="#000"/>
<path d="M996.25 319V412" fill="none" stroke="#000" stroke-width="6.5" stroke-linecap="butt" stroke-linejoin="round"/>
<path d="M996.2 425.5Q1003.8 412.5 1010.2 399.5L996.2 403.5L982.2 399.5Q988.7 412.5 996.2 425.5Z" fill="#000"/>
<path d="M996.25 743V805" fill="none" stroke="#000" stroke-width="6.5" stroke-linecap="butt" stroke-linejoin="round"/>
<path d="M996.2 818.0Q1003.8 805.0 1010.2 792.0L996.2 796.0L982.2 792.0Q988.7 805.0 996.2 818.0Z" fill="#000"/>
<path d="M1192 871.8H1252.8A30 30 0 0 0 1282.8 841.8V190A32 32 0 0 1 1314.8 158H1977" fill="none" stroke="#000" stroke-width="8" stroke-linecap="butt" stroke-linejoin="round"/>
<path d="M1989.0 158.8Q1976.5 151.3 1964.0 145.0L1969.0 158.8L1964.0 172.5Q1976.5 166.2 1989.0 158.8Z" fill="#000"/>
<path d="M2223.3 906V934" fill="none" stroke="#000" stroke-width="5.8" stroke-linecap="butt" stroke-linejoin="round"/>
<path d="M1385.8 308.0H1364.3M1356.3 308.4A27.0 27.0 0 0 0 1334.8 328.5M1334.0 339.5V369.1M1334.0 379.4V409.0M1334.0 419.2V448.8M1334.0 459.1V488.7M1334.0 498.9V528.5M1334.0 538.8V568.4M1334.0 578.6V608.2M1334.0 618.5V648.1M1334.0 658.3V687.9M1334.0 698.2V727.8M1334.0 738.0V767.6M1334.0 777.9V807.5M1334.0 817.7V847.3M1334.0 856.3A20.0 20.0 0 0 1 1326.3 872.8M1316.4 877.0H1287.0M1277.0 877.0H1249.0" fill="none" stroke="#000" stroke-width="7.2" stroke-linecap="butt" stroke-linejoin="round"/>
<path d="M1791.2 309.2H1820.4M1829.9 309.2H1859.1M1867.8 309.2L1869.6 309.2A24.0 24.0 0 0 1 1893.4 330.3M1893.7 340.5V368.9M1893.7 379.5V408.7M1893.7 419.3V448.9M1893.7 459.1V489.0M1893.7 505.8V534.3M1893.7 544.0V572.0M1893.7 581.0A26.0 26.0 0 0 0 1913.4 606.2M1923.7 607.0H1953.4" fill="none" stroke="#000" stroke-width="7.2" stroke-linecap="butt" stroke-linejoin="round"/>
<path d="M1958 607H1972" fill="none" stroke="#000" stroke-width="7.2" stroke-linecap="butt" stroke-linejoin="round"/>
<path d="M1983.3 606.6Q1971.3 600.0 1959.3 594.4L1964.3 606.6L1959.3 618.9Q1971.3 613.2 1983.3 606.6Z" fill="#000"/>
<path d="M2217.2 257.0V269.1M2217.2 278.8V306.9M2217.2 316.4V345.5M2215.5 354.0A22.0 22.0 0 0 1 2195.2 367.4L2194.7 367.4M2184.4 367.4H2156.5M2146.2 367.4H2116.7M2107.4 367.4H2079.5M2068.0 367.4H2040.0M2030.6 367.4L2031.3 367.4A22.0 22.0 0 0 0 2009.4 387.9M2009.3 397.7V426.8M2009.3 436.5V465.5M2007.7 475.7A22.0 22.0 0 0 1 1987.3 489.5L1966.1 489.5M1956.4 489.5H1927.3M1916.2 489.5H1887.4M1877.8 489.5H1848.7M1838.4 489.5H1810.2M1799.7 489.5H1770.6M1760.2 489.5H1731.9M1720.8 489.5H1691.6M1681.9 489.5H1652.1M1642.9 489.5L1624.3 489.5A35.0 35.0 0 0 0 1611.8 491.8M1605.0 495.3A35.0 35.0 0 0 0 1589.3 524.5M1589.4 534.0V563.6M1589.4 574.0V603.7M1589.4 614.1V643.2M1589.4 653.4V683.4M1589.4 692.6V722.2M1589.4 730.0V738.0" fill="none" stroke="#000" stroke-width="7.2" stroke-linecap="butt" stroke-linejoin="round"/>
<text fill="#2a2a2a" xml:space="preserve"><tspan x="161.74" y="177.30" font-size="26" textLength="145.11" lengthAdjust="spacingAndGlyphs">Low infensity</tspan></text>
<text fill="#231815" xml:space="preserve"><tspan x="355.38" y="107.00" font-size="44" textLength="213.36" lengthAdjust="spacingAndGlyphs">EA at ST36</tspan></text>
<text fill="#231815" xml:space="preserve"><tspan x="354.78" y="169.20" font-size="44" textLength="170.43" lengthAdjust="spacingAndGlyphs">(Zusanli)</tspan></text>
<text fill="#231815" xml:space="preserve"><tspan x="853.66" y="230.30" font-size="45" textLength="275.94" lengthAdjust="spacingAndGlyphs">Afferent fibers</tspan></text>
<text fill="#231815" xml:space="preserve"><tspan x="789.51" y="498.30" font-size="45" textLength="406.68" lengthAdjust="spacingAndGlyphs">Brainstem; NTS/DMV</tspan></text>
<text fill="#231815" xml:space="preserve"><tspan x="802.04" y="560.90" font-size="45" textLength="381.15" lengthAdjust="spacingAndGlyphs">(nucleus tractus so-</tspan></text>
<text fill="#231815" xml:space="preserve"><tspan x="798.90" y="622.90" font-size="45" textLength="388.74" lengthAdjust="spacingAndGlyphs">litarius/dorsal motor</tspan></text>
<text fill="#231815" xml:space="preserve"><tspan x="831.88" y="685.60" font-size="45" textLength="323.88" lengthAdjust="spacingAndGlyphs">nucleus of vagus</tspan></text>
<text fill="#231815" xml:space="preserve"><tspan x="833.56" y="897.20" font-size="45" textLength="291.03" lengthAdjust="spacingAndGlyphs">Vagal efferents</tspan></text>
<text fill="#231815" xml:space="preserve"><tspan x="1456.81" y="266.25" font-size="45" textLength="264.82" lengthAdjust="spacingAndGlyphs">Vagal-adrenal</tspan></text>
<text fill="#231815" xml:space="preserve"><tspan x="1550.19" y="329.00" font-size="45" textLength="75.85" lengthAdjust="spacingAndGlyphs">axis</tspan></text>
<text fill="#231815" xml:space="preserve"><tspan x="1422.80" y="391.20" font-size="45" textLength="331.14" lengthAdjust="spacingAndGlyphs">(catecholamines)</tspan></text>
<text fill="#231815" xml:space="preserve"><tspan x="1533.89" y="810.30" font-size="45" textLength="67.20" lengthAdjust="spacingAndGlyphs">NF-</tspan><tspan x="1601.59" y="810.70" font-size="38" class="gk" textLength="22.04" lengthAdjust="spacingAndGlyphs">κ</tspan><tspan x="1626.61" y="810.30" font-size="45" textLength="25.94" lengthAdjust="spacingAndGlyphs">B</tspan></text>
<text fill="#231815" xml:space="preserve"><tspan x="1491.94" y="872.00" font-size="45" textLength="202.83" lengthAdjust="spacingAndGlyphs">(inhibited)</tspan></text>
<text fill="#231815" xml:space="preserve"><tspan x="2088.31" y="152.50" font-size="45" textLength="251.39" lengthAdjust="spacingAndGlyphs">Immune/Glia</tspan></text>
<text fill="#231815" xml:space="preserve"><tspan x="2092.90" y="215.40" font-size="45" textLength="15.57" lengthAdjust="spacingAndGlyphs">(</tspan><tspan x="2109.50" y="216.00" font-size="42" class="gk" textLength="27.96" lengthAdjust="spacingAndGlyphs">α</tspan><tspan x="2137.65" y="215.40" font-size="45" textLength="182.61" lengthAdjust="spacingAndGlyphs">7nAChR+</tspan><tspan x="2324.12" y="215.40" font-size="45" textLength="15.70" lengthAdjust="spacingAndGlyphs">)</tspan></text>
<text fill="#231815" xml:space="preserve"><tspan x="2123.03" y="576.40" font-size="45" textLength="199.68" lengthAdjust="spacingAndGlyphs">Cytokines:</tspan></text>
<text fill="#231815" xml:space="preserve"><tspan x="2092.69" y="640.67" font-size="40.2" class="ar" textLength="24.91" lengthAdjust="spacingAndGlyphs">↓</tspan><tspan x="2115.07" y="638.60" font-size="45" textLength="94.27" lengthAdjust="spacingAndGlyphs">TNF-</tspan><tspan x="2208.26" y="639.20" font-size="42" class="gk" textLength="28.52" lengthAdjust="spacingAndGlyphs">α</tspan><tspan x="2235.63" y="638.60" font-size="45" textLength="17.73" lengthAdjust="spacingAndGlyphs">-</tspan><tspan x="2251.72" y="640.67" font-size="40.2" class="ar" textLength="24.77" lengthAdjust="spacingAndGlyphs">↓</tspan><tspan x="2272.05" y="638.60" font-size="45" textLength="81.22" lengthAdjust="spacingAndGlyphs">IL-6</tspan></text>
<text fill="#231815" xml:space="preserve"><tspan x="2059.42" y="708.97" font-size="40.2" class="ar" textLength="24.77" lengthAdjust="spacingAndGlyphs">↓</tspan><tspan x="2079.89" y="706.90" font-size="45" textLength="116.67" lengthAdjust="spacingAndGlyphs">IL-10 </tspan><tspan x="2196.60" y="706.90" font-size="45" textLength="15.57" lengthAdjust="spacingAndGlyphs">(</tspan><tspan x="2213.45" y="709.50" font-size="46.7" class="gk" textLength="39.60" lengthAdjust="spacingAndGlyphs">±</tspan><tspan x="2247.58" y="706.90" font-size="45" textLength="106.23" lengthAdjust="spacingAndGlyphs"> TGF-</tspan><tspan x="2353.61" y="709.60" font-size="36" class="gk" textLength="25.84" lengthAdjust="spacingAndGlyphs">β</tspan><tspan x="2382.14" y="706.90" font-size="45" textLength="14.57" lengthAdjust="spacingAndGlyphs">)</tspan></text>
<text fill="#231815" xml:space="preserve"><tspan x="1958.91" y="1016.00" font-size="45" textLength="423.03" lengthAdjust="spacingAndGlyphs">Disrupts pain-anxiety-</tspan></text>
<text fill="#231815" xml:space="preserve"><tspan x="1943.10" y="1078.50" font-size="45" textLength="457.08" lengthAdjust="spacingAndGlyphs">inflammation cycle (CS)</tspan></text>
<text fill="#231815" xml:space="preserve"><tspan x="2032.20" y="1141.60" font-size="45" textLength="80.51" lengthAdjust="spacingAndGlyphs">Pain</tspan><tspan x="2112.02" y="1143.27" font-size="40.2" class="ar" textLength="24.06" lengthAdjust="spacingAndGlyphs">↓</tspan><tspan x="2133.76" y="1141.60" font-size="45" textLength="153.02" lengthAdjust="spacingAndGlyphs"> Anxiety</tspan><tspan x="2286.23" y="1143.27" font-size="40.2" class="ar" textLength="23.35" lengthAdjust="spacingAndGlyphs">↓</tspan></text>
<text fill="#231815" xml:space="preserve"><tspan x="2077.69" y="1203.30" font-size="45" textLength="163.98" lengthAdjust="spacingAndGlyphs">Function</tspan><tspan x="2240.82" y="1205.57" font-size="40.2" class="ar" textLength="24.06" lengthAdjust="spacingAndGlyphs">↑</tspan></text>
</svg>
</body>
</html>
